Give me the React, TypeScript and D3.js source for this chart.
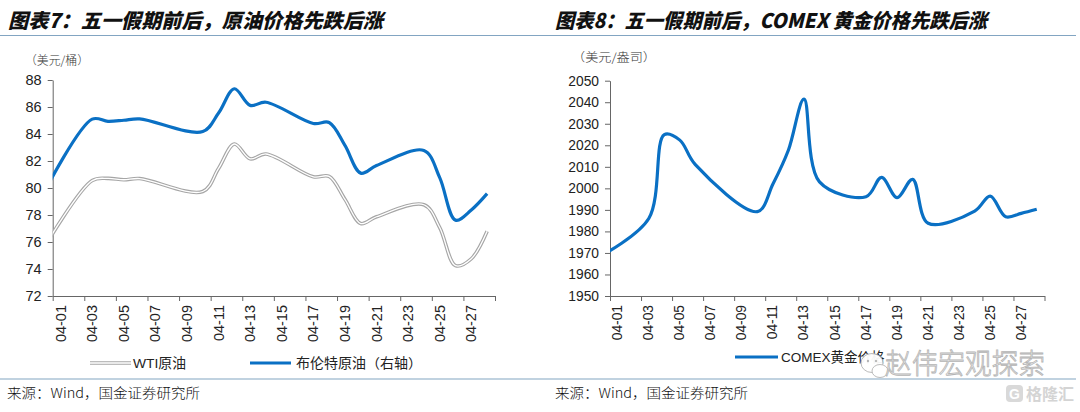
import React, { useEffect, useRef } from 'react';
import * as d3 from 'd3';

// trading days (03-31 sits just left of the axis and gets clipped, like Excel)
const tradeDates = ['03-31', '04-03', '04-04', '04-05', '04-06', '04-10', '04-11', '04-12', '04-13', '04-14',
  '04-17', '04-18', '04-19', '04-20', '04-21', '04-24', '04-25', '04-26', '04-27', '04-28'];
const wti = [75.67, 80.55, 80.71, 80.61, 80.70, 79.74, 81.45, 83.26, 82.16, 82.52,
  80.83, 80.86, 79.16, 77.37, 77.87, 78.76, 77.07, 74.25, 74.76, 76.80];
const brent = [79.77, 85.10, 84.94, 85.02, 85.12, 84.18, 85.55, 87.35, 86.12, 86.35,
  84.78, 84.85, 83.15, 81.10, 81.66, 82.78, 80.77, 77.62, 78.37, 79.58];
const gold = [1969, 1986, 2025, 2022.4, 2011, 1989.2, 2002, 2017.8, 2041.4, 2003,
  1996.1, 2005.1, 1995.7, 2004.2, 1983.8, 1989.4, 1996.4, 1986.8, 1988.4, 1990.3];

const axisLabels = ['04-01', '04-03', '04-05', '04-07', '04-09', '04-11', '04-13', '04-15',
  '04-17', '04-19', '04-21', '04-23', '04-25', '04-27'];
const oilTicks = [72, 74, 76, 78, 80, 82, 84, 86, 88];
const goldTicks = [1950, 1960, 1970, 1980, 1990, 2000, 2010, 2020, 2030, 2040, 2050];

const BLUE = '#0a70c4';
const RULE = '#82a5c2';
const CJK = "'Noto Sans CJK SC', sans-serif";
const NUM = "'Liberation Sans', Arial, sans-serif";
const NARROW = "'Liberation Sans Narrow', 'Liberation Sans', 'Noto Sans CJK SC', sans-serif";

const dayOf = (s: string) => {
  const [m, d] = s.split('-').map(Number);
  return m === 3 ? d - 31 : d;
};

type Panel = {
  id: string;
  x0: number; x1: number; yTop: number; yBot: number;
  domain: [number, number]; ticks: number[]; fontSize: number;
};

export default function App() {
  const chartRef = useRef<SVGGElement>(null);

  useEffect(() => {
    if (!chartRef.current) return;
    const root = d3.select(chartRef.current);
    root.selectAll('*').remove();

    const drawPanel = (p: Panel) => {
      const x = d3.scaleLinear().domain([0.5, 28.5]).range([p.x0, p.x1]);
      const y = d3.scaleLinear().domain(p.domain).range([p.yBot, p.yTop]);
      const g = root.append('g');

      g.append('clipPath').attr('id', `clip-${p.id}`)
        .append('rect')
        .attr('x', p.x0).attr('y', p.yTop - 20)
        .attr('width', p.x1 - p.x0).attr('height', p.yBot - p.yTop + 20);

      const yAxis = g.append('g')
        .attr('transform', `translate(${p.x0},0)`)
        .call(d3.axisLeft(y).tickValues(p.ticks).tickSize(5).tickSizeOuter(0).tickPadding(6).tickFormat(d3.format('d')));
      yAxis.selectAll('path,line').attr('stroke', '#666');
      yAxis.selectAll('text').attr('font-family', NUM).attr('font-size', p.fontSize).attr('fill', '#222');

      const xAxis = g.append('g')
        .attr('transform', `translate(0,${p.yBot})`)
        .call(d3.axisBottom(x).tickValues(d3.range(0.5, 29, 2)).tickSize(5).tickSizeOuter(0).tickFormat(() => ''));
      xAxis.selectAll('path,line').attr('stroke', '#666');

      g.selectAll('.xlab')
        .data(axisLabels)
        .join('text')
        .attr('class', 'xlab')
        .attr('transform', d => `translate(${x(dayOf(d))},${p.yBot + 9}) rotate(-90)`)
        .attr('text-anchor', 'end')
        .attr('dominant-baseline', 'central')
        .attr('font-family', NUM)
        .attr('font-size', p.fontSize)
        .attr('fill', '#222')
        .text(d => d);

      return { x, y, g, clip: `url(#clip-${p.id})` };
    };

    const line = (x: d3.ScaleLinear<number, number>, y: d3.ScaleLinear<number, number>, vals: number[]) =>
      d3.line<number>()
        .x((_, i) => x(dayOf(tradeDates[i])))
        .y(v => y(v))
        .curve(d3.curveCatmullRom.alpha(0.5))(vals) || '';

    // left: oil
    const left = drawPanel({ id: 'oil', x0: 52.7, x1: 495, yTop: 80, yBot: 296, domain: [72, 88], ticks: oilTicks, fontSize: 14.5 });
    const lc = left.g.append('g').attr('clip-path', left.clip);
    lc.append('path').attr('d', line(left.x, left.y, wti)).attr('fill', 'none').attr('stroke', '#a6a6a6').attr('stroke-width', 3.6);
    lc.append('path').attr('d', line(left.x, left.y, wti)).attr('fill', 'none').attr('stroke', '#fff').attr('stroke-width', 1.3);
    lc.append('path').attr('d', line(left.x, left.y, brent)).attr('fill', 'none').attr('stroke', BLUE).attr('stroke-width', 3.2);

    // right: gold
    const right = drawPanel({ id: 'gold', x0: 610, x1: 1044.5, yTop: 80.7, yBot: 296, domain: [1950, 2050], ticks: goldTicks, fontSize: 13.8 });
    const rc = right.g.append('g').attr('clip-path', right.clip);
    rc.append('path').attr('d', line(right.x, right.y, gold)).attr('fill', 'none').attr('stroke', BLUE).attr('stroke-width', 3.2);
  }, []);

  const titleStyle = { fontFamily: CJK, fontSize: 20, fontWeight: 900, fontStyle: 'italic' as const, fill: '#111' };
  const unitStyle = { fontFamily: CJK, fontSize: 12, fontWeight: 300, fill: '#333' };
  const legendStyle = { fontFamily: NARROW, fontSize: 13.5, fill: '#222' };
  const srcStyle = { fontFamily: CJK, fontSize: 13.5, fontWeight: 300, fill: '#111' };

  return (
    <svg width={1080} height={412}
      style={{ position: 'absolute', left: 0, top: 0, background: '#fff' }}>
      {/* titles */}
      <text x={8} y={28} style={titleStyle} textLength={375} lengthAdjust="spacingAndGlyphs">图表7：五一假期前后，原油价格先跌后涨</text>
      <text x={555} y={28} style={titleStyle} textLength={432} lengthAdjust="spacingAndGlyphs">图表8：五一假期前后，COMEX 黄金价格先跌后涨</text>
      <line x1={0} x2={1076} y1={35.5} y2={35.5} stroke={RULE} strokeWidth={1.2} />

      {/* units */}
      <text x={25} y={65} style={unitStyle} textLength={64} lengthAdjust="spacingAndGlyphs">（美元/桶）</text>
      <text x={572} y={62} style={unitStyle} textLength={84} lengthAdjust="spacingAndGlyphs">（美元/盎司）</text>

      <g ref={chartRef} />

      {/* legends */}
      <line x1={90} x2={131} y1={363} y2={363} stroke="#a6a6a6" strokeWidth={3.6} />
      <line x1={90} x2={131} y1={363} y2={363} stroke="#fff" strokeWidth={1.3} />
      <text x={133} y={368} style={legendStyle} textLength={53} lengthAdjust="spacingAndGlyphs">WTI原油</text>
      <line x1={250} x2={291} y1={363} y2={363} stroke={BLUE} strokeWidth={3.2} />
      <text x={296} y={368} style={legendStyle} textLength={126} lengthAdjust="spacingAndGlyphs">布伦特原油（右轴）</text>
      <line x1={735} x2={778} y1={357} y2={357} stroke={BLUE} strokeWidth={3.2} />
      <text x={781} y={362} style={legendStyle}>COMEX黄金价格</text>

      {/* watermark */}
      <g opacity={0.95}>
        <ellipse cx={872} cy={363} rx={11} ry={9.5} fill="#fff" stroke="#b8b8b8" strokeWidth={1} />
        <ellipse cx={880} cy={371} rx={8} ry={6.5} fill="#fff" stroke="#b8b8b8" strokeWidth={1} />
        <circle cx={868} cy={361} r={1.2} fill="#b8b8b8" />
        <circle cx={876} cy={361} r={1.2} fill="#b8b8b8" />
        <text x={885} y={374} style={{ fontFamily: CJK, fontSize: 28, fontWeight: 300, fill: '#f4f4f4', stroke: '#b0b0b0', strokeWidth: 0.8 }} textLength={160} lengthAdjust="spacingAndGlyphs">赵伟宏观探索</text>
      </g>

      <line x1={0} x2={1076} y1={379} y2={379} stroke={RULE} strokeWidth={1.2} />

      {/* sources */}
      <text x={7} y={398} style={srcStyle} textLength={193} lengthAdjust="spacingAndGlyphs">来源：Wind，国金证券研究所</text>
      <text x={555} y={398} style={srcStyle} textLength={193} lengthAdjust="spacingAndGlyphs">来源：Wind，国金证券研究所</text>

      {/* logo */}
      <g>
        <rect x={1006} y={385} width={17} height={17} rx={4} fill="#d9d9d9" />
        <text x={1014.5} y={398.5} textAnchor="middle" style={{ fontFamily: NUM, fontSize: 14, fontWeight: 700, fill: '#fff' }}>G</text>
        <text x={1026} y={400} style={{ fontFamily: CJK, fontSize: 16, fontWeight: 700, fill: '#d4d4d4' }}>格隆汇</text>
      </g>
    </svg>
  );
}
